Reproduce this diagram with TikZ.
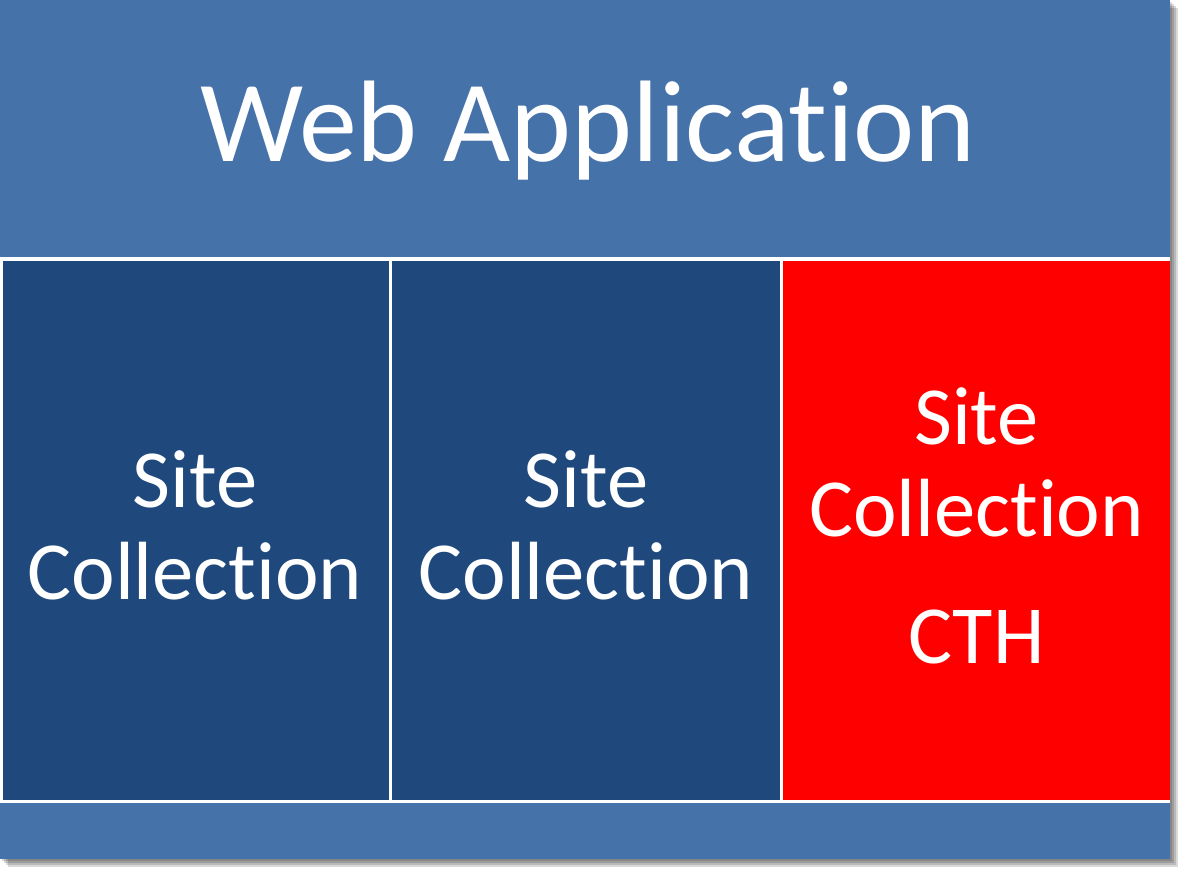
\documentclass[tikz,border=0pt]{standalone}
\usepackage{fontspec}
\setmainfont[Ligatures=NoCommon]{Carlito}
\definecolor{webblue}{RGB}{70,114,170}
\definecolor{siteblue}{RGB}{31,73,125}
\definecolor{cthred}{RGB}{255,0,0}
\begin{document}
\begin{tikzpicture}[x=0.02cm,y=-0.02cm,
  sitebox/.style={fill=#1,minimum height=10.78cm,inner sep=0pt},
  sitetext/.style={text=white,align=center,inner sep=0pt,
    font=\fontsize{47}{52.3}\selectfont}]
\useasboundingbox (0,0) rectangle (1185,874);
% shadow
\foreach \d in {2,4,6,8}
  \fill[black,opacity=0.15] (\d,\d) rectangle (1170+\d,859+\d);
\fill[webblue] (0,0) rectangle (1170,859);
\node[anchor=base,text=white,font=\fontsize{66}{79}\selectfont] (web) at (588,162) {Web Application};
% site collections
\fill[white] (0,257.5) rectangle (1170,802.5);
\node[sitebox=siteblue,minimum width=7.72cm] (sc1) at (196,530.5) {};
\node[sitebox=siteblue,minimum width=7.76cm] (sc2) at (586,530.5) {};
\node[sitebox=cthred,minimum width=7.74cm] (sc3) at (976.5,530.5) {};
\node[sitetext] (t1) at (195,525.5) {Site\\Collection};
\node[sitetext] (t2) at (586,525.5) {Site\\Collection};
\node[sitetext] (t3) at (976.5,525.5) {Site\\Collection\\[20pt]CTH};
\end{tikzpicture}
\end{document}
